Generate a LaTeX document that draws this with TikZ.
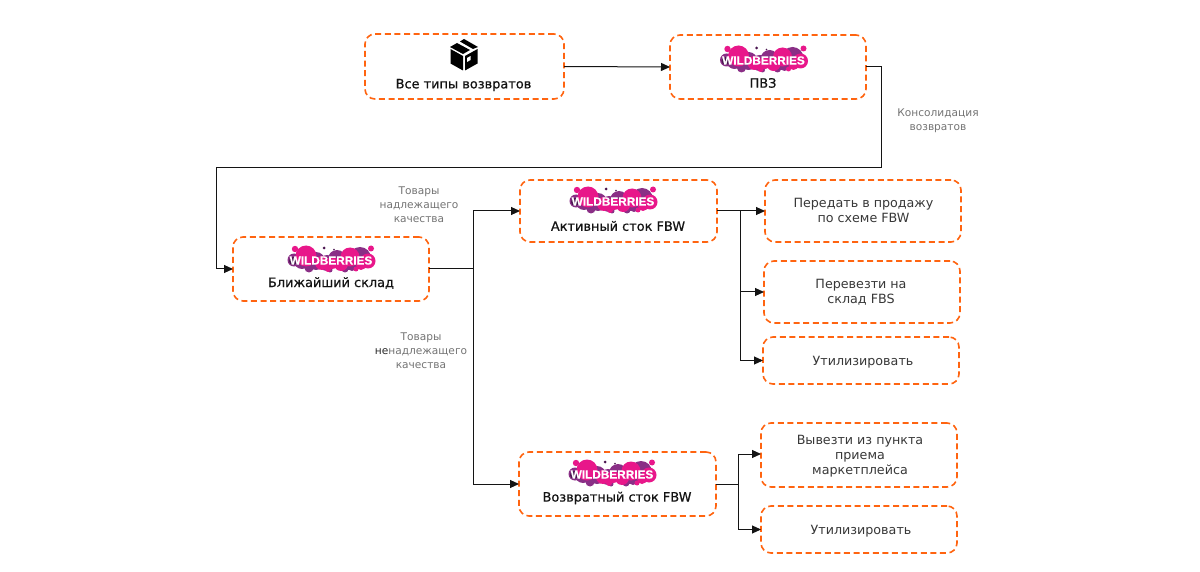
\documentclass[tikz,border=0pt]{standalone}
\usepackage{fontspec}
\setmainfont{DejaVu Sans}
\newfontfamily\semib[FakeBold=0.6]{DejaVu Sans}
\newfontfamily\logofont[FakeBold=0.3]{Liberation Sans Bold}
\usetikzlibrary{arrows.meta}
\definecolor{wbpink}{HTML}{E8178A}
\definecolor{wbpurple}{HTML}{8A2F86}
\definecolor{wbdark}{HTML}{4A1550}
\definecolor{dashor}{HTML}{FF6410}
\tikzset{
  x=1pt,y=-1pt,
  flowbox/.style={draw=dashor,line width=1.6pt,dash pattern=on 6pt off 3.6pt,rounded corners=10pt,inner sep=0pt,outer sep=0pt,fill=white},
  boxtext/.style={align=center,inner sep=0pt,text=black!78,font=\fontsize{12.7}{15}\selectfont},
  titletext/.style={inner sep=0pt,text=black!92,font=\semib\fontsize{12.9}{14}\selectfont},
  notetext/.style={align=center,text=black!55,font=\fontsize{10.6}{14}\selectfont,inner sep=0pt},
  conn/.style={draw=black!92,line width=1pt,-{Triangle[length=9pt,width=8pt]}},
  plain/.style={draw=black!92,line width=1pt},
}
\newcommand{\wblogo}[2]{%
\begin{scope}[shift={(#1,#2)}]
  \foreach \a/\b/\r in {-37/0/6.5,-29/1/8,-15/1/9,-4/3/8,6/-1/9,17/2/8,29/-2/11,21/6/5,-22/8/4.5,14/9/3.5,-1/10/2.5}
    \fill[wbpurple] (\a,\b) circle (\r);
  \fill[wbdark] (-38,1) circle (4);
  \foreach \a/\b/\r in {-25/-4/10.5,-9/3/7,1/3/6,19/-3/9.5,10/4/7,37/1/7.5,30/5/5,-3/9/3,25/9/2.5}
    \fill[wbpink] (\a,\b) circle (\r);
  \fill[wbpink] (-36,-11) circle (3.2);
  \fill[wbpink] (40,-11.5) circle (3);
  \fill[wbdark] (-7,-12) circle (1.5);
  \fill[wbdark] (3,-10.5) circle (.9);
  \node[inner sep=0pt,text=white,font=\logofont\fontsize{11.8}{12}\selectfont] at (0,.5) {WILDBERRIES};
\end{scope}}
\begin{document}
\begin{tikzpicture}
\useasboundingbox (0,0) rectangle (1200,572);
% boxes
\node[flowbox,minimum width=199pt,minimum height=65pt] (all) at (464.5,66.5) {};
\node[flowbox,minimum width=196pt,minimum height=64pt] (pvz) at (768,67) {};
\node[flowbox,minimum width=196pt,minimum height=64pt] (near) at (331,269) {};
\node[flowbox,minimum width=197pt,minimum height=62pt] (active) at (618.5,211) {};
\node[flowbox,minimum width=197pt,minimum height=64pt] (ret) at (617.5,484) {};
\node[flowbox,minimum width=196pt,minimum height=62pt] (b1) at (863,211) {};
\node[flowbox,minimum width=196pt,minimum height=62pt] (b2) at (862,292) {};
\node[flowbox,minimum width=196pt,minimum height=47pt] (b3) at (861,360.5) {};
\node[flowbox,minimum width=196pt,minimum height=64pt] (c1) at (859,455) {};
\node[flowbox,minimum width=196pt,minimum height=47pt] (c2) at (859,529.5) {};
\node[boxtext] (b1t) at (863.5,210.5) {Передать в продажу\\по схеме FBW};
\node[boxtext] (b2t) at (861,292.5) {Перевезти на\\склад FBS};
\node[boxtext] (b3t) at (863,362) {Утилизировать};
\node[boxtext] (c1t) at (860,456) {Вывезти из пункта\\приема\\маркетплейса};
\node[boxtext] (c2t) at (861,531) {Утилизировать};
% logos
\wblogo{763.5}{60}
\wblogo{331}{260}
\wblogo{613}{201}
\wblogo{612}{474}
% box icon
\begin{scope}[shift={(464,55)}]
  \fill[black] (-13.5,-6) -- (-1,1) -- (-1,15.5) -- (-13.5,8.5) -- cycle;
  \fill[black] (1,1) -- (13.5,-6) -- (13.5,8.5) -- (1,15.5) -- cycle;
  \fill[black] (-14,-8) -- (-7,-12) -- (6,-5) -- (-1,-1) -- cycle;
  \fill[black] (-4,-13.5) -- (0,-16) -- (14,-8) -- (9,-6) -- cycle;
  \fill[white] (3,3) -- (6.5,1) -- (6.5,5) -- (3,7) -- cycle;
\end{scope}
% titles
\node[titletext] (t1) at (463.5,85) {Все типы возвратов};
\node[titletext] (t2) at (763,83) {ПВЗ};
\node[titletext] (t3) at (331,283) {Ближайший склад};
\node[titletext] (t4) at (618,226) {Активный сток FBW};
\node[titletext] (t5) at (617,498) {Возвратный сток FBW};
% notes
\node[notetext] (n1) at (938,120.5) {Консолидация\\возвратов};
\node[notetext] (n2) at (419,204.5) {Товары\\надлежащего\\качества};
\node[notetext] (n3) at (421,351) {Товары\\{\color{black!85}не}надлежащего\\качества};
% waypoints
\coordinate (p1) at (881,67);
\coordinate (p2) at (881,168);
\coordinate (p3) at (216,168);
\coordinate (p4) at (216,269);
\coordinate (s1) at (473,269);
\coordinate (s2) at (740,211);
\coordinate (s3) at (738,484);
% connectors
\draw[conn] (all.east) -- (pvz.west);
\draw[conn] (pvz.east) -- (p1) -- (p2) -- (p3) -- (p4) -- (near.west);
\draw[plain] (near.east) -- (s1);
\draw[conn] (s1) |- (active.west);
\draw[conn] (s1) |- (ret.west);
\draw[conn] (active.east) -- (b1.west);
\draw[conn] (s2) |- (b2.west);
\draw[conn] (s2) |- (b3.west);
\draw[plain] (ret.east) -- (s3);
\draw[conn] (s3) |- ([yshift=1pt]c1.west);
\draw[conn] (s3) |- (c2.west);
\end{tikzpicture}
\end{document}
